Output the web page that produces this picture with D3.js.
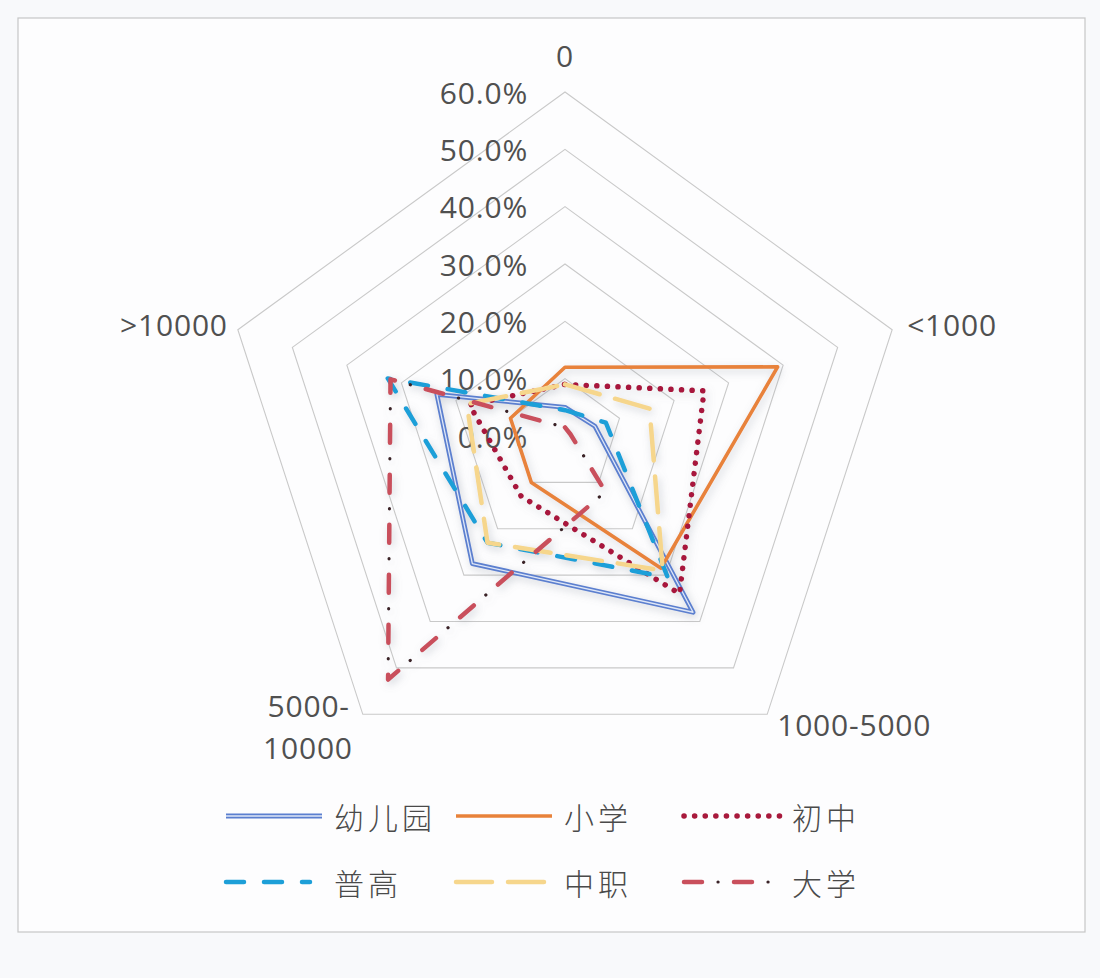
<!DOCTYPE html>
<html>
<head>
<meta charset="utf-8">
<script src="https://cdn.jsdelivr.net/npm/d3@7"></script>
<style>
  body { margin: 0; background: #f8f9fb; }
  svg { display: block; }
  .cat, .tick { font-family: "Open Sans", "Noto Sans", sans-serif; font-size: 30px; letter-spacing: 0.8px; fill: #505050; }
  .leg { font-family: "Noto Sans CJK SC", sans-serif; font-size: 30px; font-weight: 300; fill: #4a4a4a; letter-spacing: 4px; }
</style>
</head>
<body>
<div id="chart"></div>
<script>
// axis categories, clockwise from the top
const categories = ["0", "<1000", "1000-5000", "5000-10000", ">10000"];
// radial ticks, percent
const tickValues = [0, 10, 20, 30, 40, 50, 60];

// series values (%), same order as categories
const kindergarten = [5, 5.5, 38, 27.5, 23.5];   // 幼儿园
const primary = [12, 39, 28.5, 10, 10];          // 小学
const juniorHigh = [9, 25.5, 34, 13, 17.5];      // 初中
const seniorHigh = [4.5, 7.5, 30.5, 23, 32.5];   // 普高
const vocational = [9, 15.5, 29, 23, 18];        // 中职
const university = [1.5, 1, 12, 52.5, 32];       // 大学

const seriesNames = ["幼儿园", "小学", "初中", "普高", "中职", "大学"];

// chart settings
const width = 1100;
const height = 978;
const cx = 565;
const cy = 436;
const radius = 344;

const series = [
  { name: seriesNames[0], values: kindergarten, kind: "double", color: "#5b7fcf" },
  { name: seriesNames[1], values: primary, kind: "solid", color: "#e8823a" },
  { name: seriesNames[2], values: juniorHigh, kind: "dot", color: "#a8193c" },
  { name: seriesNames[3], values: seniorHigh, kind: "dash", color: "#1d9fd8" },
  { name: seriesNames[4], values: vocational, kind: "longdash", color: "#f6d68c" },
  { name: seriesNames[5], values: university, kind: "dashdot", color: "#c94f5c" },
];

const r = d3.scaleLinear().domain([0, 60]).range([0, radius]);
const angle = d3.scalePoint().domain(categories.concat(["_end"])).range([0, 2 * Math.PI]);

// point on an axis for a value
const pt = (cat, v) => {
  const a = angle(cat);
  return [cx + r(v) * Math.sin(a), cy - r(v) * Math.cos(a)];
};

const svg = d3.select("#chart").append("svg")
  .attr("width", width)
  .attr("height", height);

const defs = svg.append("defs");
const shadow = defs.append("filter").attr("id", "shadow")
  .attr("x", "-20%").attr("y", "-20%").attr("width", "140%").attr("height", "140%");
shadow.append("feDropShadow")
  .attr("dx", 2).attr("dy", 3).attr("stdDeviation", 4)
  .attr("flood-color", "#7a8190").attr("flood-opacity", 0.35);

// chart frame
svg.append("rect")
  .attr("x", 18).attr("y", 18)
  .attr("width", 1067).attr("height", 914)
  .attr("fill", "#fdfdfe")
  .attr("stroke", "#c6c6c6")
  .attr("stroke-width", 1.2);

// grid rings
const ring = (v) => categories.map((c) => pt(c, v));
svg.append("g").selectAll("polygon")
  .data(tickValues.filter((d) => d > 0))
  .enter()
  .append("polygon")
  .attr("points", (d) => ring(d).map((p) => p.join(",")).join(" "))
  .attr("fill", "none")
  .attr("stroke", "#c9c9c9")
  .attr("stroke-width", 1.1);

// radial tick labels
svg.append("g").selectAll("text")
  .data(tickValues)
  .enter()
  .append("text")
  .attr("class", "tick")
  .attr("x", cx - 37)
  .attr("y", (d) => cy - r(d))
  .attr("text-anchor", "end")
  .attr("dominant-baseline", "central")
  .text((d) => d3.format(".1f")(d) + "%");

// category labels
const labelG = svg.append("g");
const outer = (c) => pt(c, 60);
let p = outer(categories[0]);
labelG.append("text").attr("class", "cat")
  .attr("x", p[0]).attr("y", p[1] - 37)
  .attr("text-anchor", "middle").attr("dominant-baseline", "central")
  .text(categories[0]);
p = outer(categories[1]);
labelG.append("text").attr("class", "cat")
  .attr("x", p[0] + 15).attr("y", p[1] - 5)
  .attr("text-anchor", "start").attr("dominant-baseline", "central")
  .text(categories[1]);
p = outer(categories[2]);
labelG.append("text").attr("class", "cat")
  .attr("x", p[0] + 10).attr("y", p[1] + 10)
  .attr("text-anchor", "start").attr("dominant-baseline", "central")
  .text(categories[2]);
p = outer(categories[3]);
const split = categories[3].split("-");
labelG.append("text").attr("class", "cat")
  .attr("x", p[0] - 13).attr("y", p[1] - 9)
  .attr("text-anchor", "end").attr("dominant-baseline", "central")
  .text(split[0] + "-");
labelG.append("text").attr("class", "cat")
  .attr("x", p[0] - 10).attr("y", p[1] + 33)
  .attr("text-anchor", "end").attr("dominant-baseline", "central")
  .text(split[1]);
p = outer(categories[4]);
labelG.append("text").attr("class", "cat")
  .attr("x", p[0] - 10).attr("y", p[1] - 5)
  .attr("text-anchor", "end").attr("dominant-baseline", "central")
  .text(categories[4]);

// line styles
const styleLine = (sel, s) => {
  sel.attr("fill", "none").attr("stroke-linejoin", "round");
  if (s.kind === "dot") {
    sel.attr("stroke", s.color).attr("stroke-width", 5.5)
      .attr("stroke-dasharray", "0.1 10.5").attr("stroke-linecap", "round");
  } else if (s.kind === "dash") {
    sel.attr("stroke", s.color).attr("stroke-width", 4.5)
      .attr("stroke-dasharray", "18 20").attr("stroke-linecap", "round");
  } else if (s.kind === "longdash") {
    sel.attr("stroke", s.color).attr("stroke-width", 4.5)
      .attr("stroke-dasharray", "36 16").attr("stroke-linecap", "round");
  } else if (s.kind === "dashdot") {
    sel.attr("stroke", s.color).attr("stroke-width", 4.5)
      .attr("stroke-dasharray", "18 32").attr("stroke-linecap", "round");
  } else {
    sel.attr("stroke", s.color).attr("stroke-width", s.kind === "double" ? 4.8 : 3.6);
  }
};
// extra layer on top: light core for the double line, dark dots for dash-dot
const styleExtra = (sel, s) => {
  sel.attr("fill", "none").attr("stroke-linejoin", "round");
  if (s.kind === "double") {
    sel.attr("stroke", "#dfe7f7").attr("stroke-width", 1.3);
  } else if (s.kind === "dashdot") {
    sel.attr("stroke", "#3a2328").attr("stroke-width", 3.2)
      .attr("stroke-dasharray", "0.1 49.9").attr("stroke-dashoffset", -34)
      .attr("stroke-linecap", "round");
  } else {
    sel.attr("stroke", "none");
  }
};

// series polygons
const line = d3.line().curve(d3.curveLinearClosed);
const seriesG = svg.append("g").attr("filter", "url(#shadow)");
series.forEach((s) => {
  const pts = categories.map((c, i) => pt(c, s.values[i]));
  seriesG.append("path").attr("d", line(pts)).call(styleLine, s);
  seriesG.append("path").attr("d", line(pts)).call(styleExtra, s);
});

// legend
const legendCols = [222, 452, 680];
const legendRows = [816, 882];
const legend = svg.append("g");
series.forEach((s, i) => {
  const x = legendCols[i % 3];
  const y = legendRows[Math.floor(i / 3)];
  const g = legend.append("g").attr("transform", "translate(" + x + "," + y + ")");
  const len = s.kind === "dash" ? 88 : 100;
  const d = "M4,0H" + len;
  g.append("path").attr("d", d).call(styleLine, s);
  g.append("path").attr("d", d).call(styleExtra, s);
  g.append("text")
    .attr("class", "leg")
    .attr("x", 112)
    .attr("y", 0)
    .attr("dominant-baseline", "central")
    .text(s.name);
});
</script>
</body>
</html>
